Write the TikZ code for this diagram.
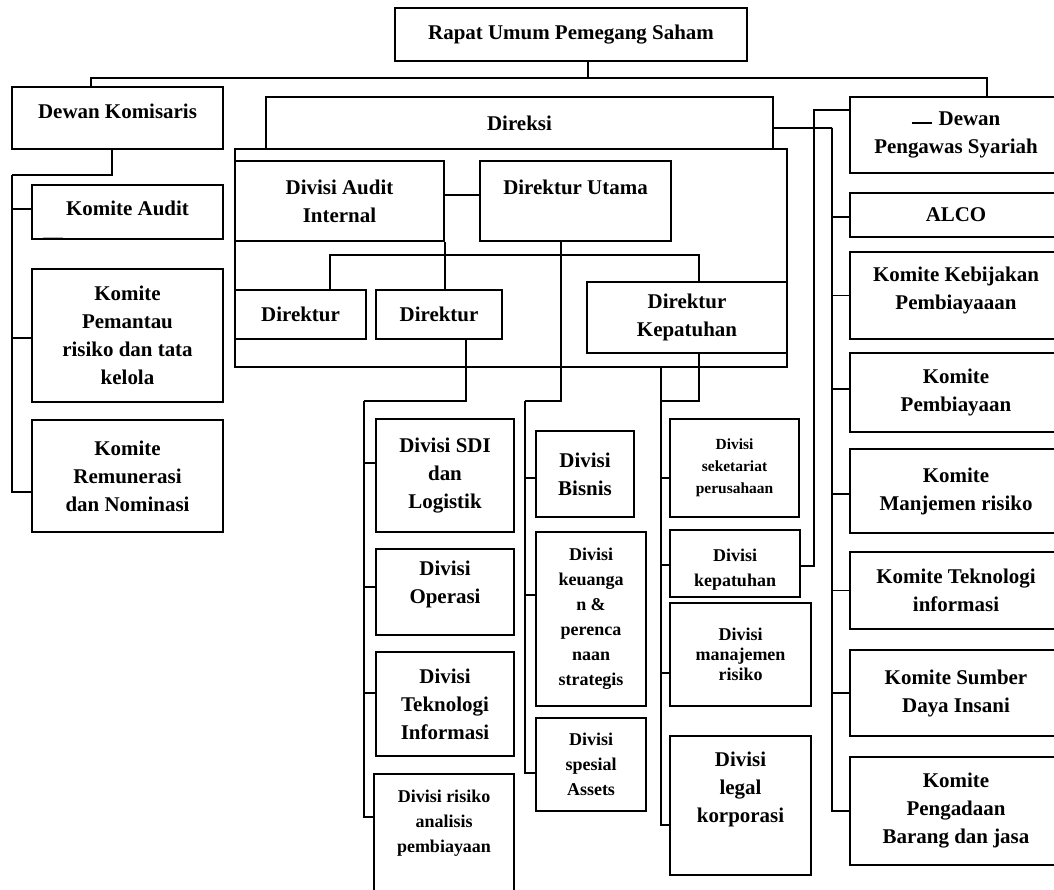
\documentclass[tikz,border=0pt]{standalone}
\usepackage{fontspec}
\setmainfont{Liberation Serif}
\tikzstyle{box} = [rectangle, draw=black, line width=1.4pt, inner sep=0pt, align=center, font=\bfseries\fontsize{14.9}{19.9}\selectfont]
\tikzstyle{midbox} = [box, font=\bfseries\fontsize{12.8}{17.8}\selectfont]
\tikzstyle{smallbox} = [box, font=\bfseries\fontsize{11}{15.6}\selectfont]
\tikzstyle{rbox} = [box, minimum width=53mm]
\tikzstyle{line} = [line width=1.4pt]

\begin{document}
\begin{tikzpicture}[x=0.25mm, y=-0.25mm]
  \useasboundingbox (0,0) rectangle (1054,889);

  % top
  \node (rups) [box, minimum width=88mm, minimum height=13.25mm] at (571,34.5) {Rapat Umum Pemegang Saham};
  \node (dekom) [box, minimum width=52.75mm, minimum height=15.5mm] at (117.5,118) {Dewan Komisaris\\[-3.8mm]\mbox{}};
  \node (direksi) [box, minimum width=126.75mm, minimum height=13mm] at (519.5,123) {Direksi};
  \node (dirbox) [box, minimum width=138mm, minimum height=54.5mm] at (511,258) {};

  % komite dewan komisaris
  \node (kaudit) [box, minimum width=47.75mm, minimum height=13.5mm] at (127.5,212) {Komite Audit\\[-5.3mm]\mbox{}};
  \node (kpemantau) [box, minimum width=47.75mm, minimum height=33.25mm] at (127.5,335.5) {Komite\\Pemantau\\risiko dan tata\\kelola};
  \node (kremun) [box, minimum width=47.75mm, minimum height=28mm] at (127.5,476) {Komite\\Remunerasi\\dan Nominasi};

  % direksi
  \node (audit) [box, minimum width=52.25mm, minimum height=20mm] at (339.5,201) {Divisi Audit\\Internal};
  \node (dirut) [box, minimum width=47.75mm, minimum height=20mm] at (575.5,201) {Direktur Utama\\\mbox{}};
  \node (dir1) [box, minimum width=32.75mm, minimum height=12.25mm] at (300.5,314.5) {Direktur};
  \node (dir2) [box, minimum width=31.5mm, minimum height=12.25mm] at (439,314.5) {Direktur};
  \node (dirkep) [box, minimum width=50mm, minimum height=17.75mm] at (687,317.5) {Direktur\\Kepatuhan};

  % divisi
  \node (dsdi) [box, minimum width=34.5mm, minimum height=28.25mm] at (445,475.5) {Divisi SDI\\dan\\Logistik};
  \node (dops) [box, minimum width=34.5mm, minimum height=21.5mm] at (445,592) {Divisi\\Operasi\\[-1.95mm]\mbox{}};
  \node (dtek) [box, minimum width=34.5mm, minimum height=26mm] at (445,704) {Divisi\\Teknologi\\Informasi};
  \node (drisk) [midbox, minimum width=35mm, minimum height=31.5mm] at (444,837) {Divisi risiko\\analisis\\pembiayaan\\[1.65mm]\mbox{}};
  \node (dbisnis) [box, minimum width=24.5mm, minimum height=21.5mm] at (585,474) {Divisi\\Bisnis};
  \node (dkeu) [midbox, minimum width=27.5mm, minimum height=43.5mm] at (591,619) {Divisi\\keuanga\\n \&\\perenca\\naan\\strategis};
  \node (dspesial) [midbox, minimum width=27.5mm, minimum height=23.25mm] at (591,764.5) {Divisi\\spesial\\Assets};
  \node (dsek) [smallbox, minimum width=32.25mm, minimum height=24.5mm] at (734.5,468) {Divisi\\seketariat\\perusahaan};
  \node (dkepat) [midbox, minimum width=32.5mm, minimum height=16.75mm] at (735,563.5) {\mbox{}\\Divisi\\kepatuhan};
  \node (dmr) [midbox, font=\bfseries\fontsize{12.8}{14.2}\selectfont, minimum width=35.25mm, minimum height=25.75mm] at (740.5,654.5) {Divisi\\manajemen\\risiko};
  \node (dlegal) [box, minimum width=35.25mm, minimum height=34.75mm] at (740.5,805.5) {Divisi\\legal\\korporasi\\[2.25mm]\mbox{}};

  % komite kanan
  \node (dps) [rbox, minimum height=19mm] at (956,135) {\rule[0.5mm]{5mm}{0.5mm}\hspace{1.75mm}Dewan\\Pengawas Syariah};
  \node (alco) [rbox, minimum height=11mm] at (956,215) {ALCO};
  \node (kkp) [rbox, minimum height=21.75mm] at (956,295.5) {Komite Kebijakan\\Pembiayaaan\\[-3.5mm]\mbox{}};
  \node (kpemb) [rbox, minimum height=19.75mm] at (956,392.5) {Komite\\Pembiayaan};
  \node (kmr) [rbox, minimum height=21mm] at (956,491) {Komite\\Manjemen risiko};
  \node (kti) [rbox, minimum height=19.25mm] at (956,590.5) {Komite Teknologi\\informasi};
  \node (ksdi) [rbox, minimum height=21.5mm] at (956,693) {Komite Sumber\\Daya Insani};
  \node (kpbj) [rbox, minimum height=27mm] at (956,811) {Komite\\Pengadaan\\Barang dan jasa};

  \coordinate (komtrunk) at (12,175);
  \coordinate (divtrunk) at (364,401);
  \coordinate (utamatrunk) at (525,401);
  \coordinate (kepatrunk) at (661,401);
  \coordinate (komitetrunk) at (832,128);

  % RUPS
  \draw[line] (rups.south -| 588,0) -- (588,78);
  \draw[line] (dekom.north -| 91,0) -- (91,78) -| (dps.north -| 987,0);

  % Dewan Komisaris
  \draw[line] (dekom.south -| 112,0) |- (komtrunk);
  \draw[line] (komtrunk) |- ([yshift=0.85mm]kaudit.west);
  \draw[line] (komtrunk) |- ([yshift=-0.6mm]kpemantau.west);
  \draw[line] (komtrunk) |- ([yshift=-4mm]kremun.west);
  \draw[gray!60, line width=1pt] ([xshift=3mm, yshift=0.6mm]kaudit.south west) -- ++(20,0);

  % Direksi
  \draw[line] ([yshift=1.5mm]audit.east) -- ([yshift=1.5mm]dirut.west);
  \draw[line] (audit.south east) -- (audit.south east |- dir2.north);
  \draw[line] (dir1.north -| 330,0) -- (330,255) -| (dirkep.north -| 699,0);

  % Direktur
  \draw[line] (dir2.south -| 466,0) |- (divtrunk);
  \draw[line] (divtrunk) |- ([yshift=3.2mm]dsdi.west);
  \draw[line] (divtrunk) |- ([yshift=1.25mm]dops.west);
  \draw[line] (divtrunk) |- ([yshift=2.75mm]dtek.west);
  \draw[line] (divtrunk) |- ([yshift=5mm]drisk.west);

  % Direktur Utama
  \draw[line] (dirut.south -| 561,0) |- (utamatrunk);
  \draw[line] (utamatrunk) |- ([yshift=-0.9mm]dbisnis.west);
  \draw[line] (utamatrunk) |- ([yshift=6mm]dkeu.west);
  \draw[line] (utamatrunk) |- ([yshift=-2.1mm]dspesial.west);

  % Direktur Kepatuhan
  \draw[line] (dirkep.south -| 699,0) |- (kepatrunk);
  \draw[line] (dirbox.south -| 661,0) -- (kepatrunk);
  \draw[line] (kepatrunk) |- ([yshift=-2.5mm]dsek.west);
  \draw[line] (kepatrunk) |- ([yshift=-0.4mm]dkepat.west);
  \draw[line] (kepatrunk) |- ([yshift=-4.6mm]dmr.west);
  \draw[line] (kepatrunk) |- ([yshift=-4.9mm]dlegal.west);
  \draw[line] ([yshift=-0.6mm]dkepat.east) -- ++(13,0) |- ([yshift=6.25mm]dps.west);

  % komite direksi
  \draw[line] ([yshift=-1.25mm]direksi.east) -- (komitetrunk);
  \draw[line] (komitetrunk) |- ([yshift=-0.5mm]alco.west);
  \draw[line] (komitetrunk) |- (kkp.west);
  \draw[line] (komitetrunk) |- ([yshift=0.9mm]kpemb.west);
  \draw[line] (komitetrunk) |- ([yshift=-0.75mm]kmr.west);
  \draw[line] (komitetrunk) |- (kti.west);
  \draw[line] (komitetrunk) |- (ksdi.west);
  \draw[line] (komitetrunk) |- (kpbj.west);
\end{tikzpicture}
\end{document}
